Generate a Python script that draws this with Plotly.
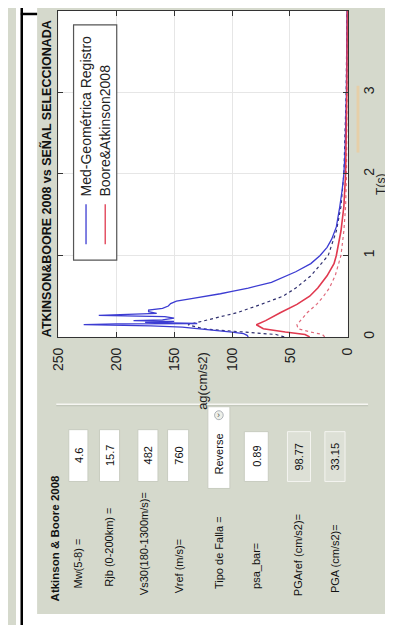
import plotly.graph_objects as go

# ---------------- data ----------------
T_rec = [0.00, 0.02, 0.04, 0.06, 0.08, 0.10, 0.12, 0.135, 0.15, 0.16, 0.165, 0.18, 0.19, 0.20,
         0.21, 0.23, 0.25, 0.265, 0.28, 0.29, 0.31, 0.33, 0.35, 0.38, 0.41, 0.44, 0.47, 0.50,
         0.53, 0.56, 0.60, 0.67, 0.74, 0.80, 0.90, 1.00, 1.10, 1.20, 1.35, 1.50, 1.60, 1.80,
         2.00, 2.25, 2.50, 3.00, 3.50, 4.00]
sa_rec = [86, 87, 90, 100, 115, 128, 143, 170, 228, 200, 130, 175, 150, 185,
          160, 150, 158, 215, 185, 165, 172, 172, 160, 155, 153, 148, 135, 122,
          110, 100, 86, 66, 54, 45, 32, 24, 18, 14, 10, 8, 7, 5,
          3.5, 2.5, 2.0, 1.3, 1.0, 0.8]

T_mod = [0.00, 0.03, 0.06, 0.10, 0.15, 0.20, 0.30, 0.40, 0.50, 0.60, 0.75, 0.90, 1.00,
         1.30, 1.60, 2.00, 3.00, 4.00]
sa_med = [33, 37, 54, 73, 79, 71, 58, 44, 33, 26, 18, 12, 10, 6, 3.5, 2.0, 0.9, 0.5]
sa_up = [55, 62, 90, 125, 138, 124, 95, 75, 56, 45, 32, 23, 17, 10, 6, 3.5, 1.5, 0.8]
sa_lo = [20, 22, 32, 43, 44, 41, 35, 27, 21, 16, 11, 8, 6, 3.5, 2.0, 1.2, 0.5, 0.3]

ag_ticks = [0, 50, 100, 150, 200, 250]
T_ticks = [0, 1, 2, 3, 4]

title_text = "ATKINSON&BOORE 2008 vs SEÑAL SELECCIONADA"
legend_names = ["Med-Geométrica Registro", "Boore&Atkinson2008"]
panel_title = "Atkinson & Boore 2008"
param_labels = ["Mw(5-8) =", "Rjb (0-200km) =", "Vs30(180-1300m/s)=", "Vref (m/s)=",
                "Tipo de Falla =", "psa_bar=", "PGAref (cm/s2)=", "PGA (cm/s2)="]
param_values = ["4.6", "15.7", "482", "760", "Reverse", "0.89", "98.77", "33.15"]

# ---------------- layout helpers ----------------
W, H = 393, 625
def px(x):
    return x / W
def py(y):
    return 1 - y / H

FONT = "Liberation Sans, Arial, sans-serif"
BG = "#d5d9cc"
BLUE = "#3c3cd2"
RED = "#e0394f"

fig = go.Figure()
fig.add_trace(go.Scatter(x=sa_up, y=T_mod, mode="lines",
                         line=dict(color="#2f2f6e", width=1.2, dash="dot"), showlegend=False))
fig.add_trace(go.Scatter(x=sa_lo, y=T_mod, mode="lines",
                         line=dict(color="#e06a7c", width=1.2, dash="dot"), showlegend=False))
fig.add_trace(go.Scatter(x=sa_rec, y=T_rec, mode="lines",
                         line=dict(color=BLUE, width=1.3), name=legend_names[0], showlegend=False))
fig.add_trace(go.Scatter(x=sa_med, y=T_mod, mode="lines",
                         line=dict(color=RED, width=1.6), name=legend_names[1], showlegend=False))

shapes = []
ann = []

# white strips + black frame
shapes.append(dict(type="rect", xref="paper", yref="paper", x0=0, x1=px(22), y0=0, y1=1,
                   fillcolor="white", line=dict(width=0), layer="below"))
shapes.append(dict(type="rect", xref="paper", yref="paper", x0=0, x1=1, y0=0, y1=py(608),
                   fillcolor="white", line=dict(width=0), layer="below"))
shapes.append(dict(type="rect", xref="paper", yref="paper", x0=px(390.5), x1=1, y0=py(608), y1=py(265),
                   fillcolor="#f4f6f2", line=dict(width=0), layer="below"))
shapes.append(dict(type="line", xref="paper", yref="paper", x0=px(6), x1=px(6), y0=0, y1=1,
                   line=dict(color="black", width=2.5)))
shapes.append(dict(type="line", xref="paper", yref="paper", x0=px(5), x1=px(22), y0=py(6), y1=py(6),
                   line=dict(color="black", width=2.5)))
shapes.append(dict(type="line", xref="paper", yref="paper", x0=px(5), x1=1, y0=py(621), y1=py(621),
                   line=dict(color="black", width=3)))
# tan strip
shapes.append(dict(type="rect", xref="paper", yref="paper", x0=px(355), x1=px(358), y0=py(145), y1=py(78),
                   fillcolor="#e6cfa8", line=dict(width=0), layer="below"))

# title
ann.append(dict(xref="paper", yref="paper", x=px(32), y=py(171), text="<b>" + title_text + "</b>",
                textangle=-90, showarrow=False, font=dict(family=FONT, size=12.5, color="#111"),
                xanchor="center", yanchor="middle"))
# axis titles
ann.append(dict(xref="paper", yref="paper", x=px(195), y=py(374), text="ag(cm/s2)",
                textangle=-90, showarrow=False, font=dict(family=FONT, size=13, color="#222"),
                xanchor="center", yanchor="middle"))
ann.append(dict(xref="paper", yref="paper", x=px(381), y=py(177), text="T(s)",
                textangle=-90, showarrow=False, font=dict(family=FONT, size=12, color="#222"),
                xanchor="center", yanchor="middle"))

# legend box
shapes.append(dict(type="rect", xref="paper", yref="paper", x0=px(60), x1=px(105), y0=py(253), y1=py(17),
                   fillcolor="white", line=dict(color="#555", width=1.2)))
leg_x = [73, 93]
leg_col = [BLUE, RED]
for i in range(2):
    shapes.append(dict(type="line", xref="paper", yref="paper", x0=px(leg_x[i]), x1=px(leg_x[i]),
                       y0=py(237), y1=py(197), line=dict(color=leg_col[i], width=1.3)))
    ann.append(dict(xref="paper", yref="paper", x=px(leg_x[i]), y=py(191), text=legend_names[i],
                    textangle=-90, showarrow=False, font=dict(family=FONT, size=14, color="#222"),
                    xanchor="center", yanchor="bottom"))

# control panel
shapes.append(dict(type="line", xref="paper", yref="paper", x0=px(42), x1=px(367), y0=py(397.5), y1=py(397.5),
                   line=dict(color="#f6f6f2", width=1.5)))
shapes.append(dict(type="line", xref="paper", yref="paper", x0=px(42), x1=px(367), y0=py(399), y1=py(399),
                   line=dict(color="#b8bcb0", width=0.8)))
ann.append(dict(xref="paper", yref="paper", x=px(41), y=py(597), text="<b>" + panel_title + "</b>",
                textangle=-90, showarrow=False, font=dict(family=FONT, size=11.5, color="#111"),
                xanchor="center", yanchor="bottom"))
row_x = [65, 97, 133, 170, 211, 250, 294, 332]
lab_bottom = [584, 583, 591, 589, 585, 585, 592, 589]
boxes = [(55, 75, 423, 475), (87, 108, 423, 475), (127, 148, 423, 475), (158, 180, 423, 475),
         (200, 223, 400, 482), (238, 263, 425, 475), (283, 307, 425, 475), (322, 343, 425, 475)]
for i in range(8):
    ann.append(dict(xref="paper", yref="paper", x=px(row_x[i]), y=py(lab_bottom[i]), text=param_labels[i],
                    textangle=-90, showarrow=False, font=dict(family=FONT, size=11, color="#111"),
                    xanchor="center", yanchor="bottom"))
    x0, x1, y0, y1 = boxes[i]
    static = i >= 6
    shapes.append(dict(type="rect", xref="paper", yref="paper", x0=px(x0), x1=px(x1), y0=py(y1), y1=py(y0),
                       fillcolor="#dde0d6" if static else "white",
                       line=dict(color="#f4f4f0" if static else "#c8ccc0", width=1)))
    cy = (y0 + y1) / 2 + (6 if i == 4 else 0)
    ann.append(dict(xref="paper", yref="paper", x=px((x0 + x1) / 2), y=py(cy), text=param_values[i],
                    textangle=-90, showarrow=False, font=dict(family=FONT, size=11, color="#111"),
                    xanchor="center", yanchor="middle"))
# popup arrow button
shapes.append(dict(type="circle", xref="paper", yref="paper", x0=px(207), x1=px(216), y0=py(413), y1=py(404),
                   fillcolor="#eef0ea", line=dict(color="#9aa0a8", width=0.8)))
ann.append(dict(xref="paper", yref="paper", x=px(211.5), y=py(408.5), text="›",
                showarrow=False, font=dict(family=FONT, size=9, color="#555"),
                xanchor="center", yanchor="middle"))

fig.update_layout(
    width=W, height=H, margin=dict(l=0, r=0, t=0, b=0),
    paper_bgcolor=BG, plot_bgcolor="white",
    shapes=shapes, annotations=ann, showlegend=False,
    xaxis=dict(domain=[px(44), px(346)], range=[250, 0], tickvals=ag_ticks, tickangle=-90,
               ticks="inside", ticklen=5, tickcolor="#333", mirror="ticks", showline=True,
               linecolor="#333", linewidth=1.2, showgrid=True, gridcolor="#e6e6e6", zeroline=False,
               tickfont=dict(family=FONT, size=14, color="#222"), ticklabelstandoff=4, fixedrange=True),
    yaxis=dict(domain=[py(330), py(3)], range=[0, 4], tickvals=T_ticks, tickangle=-90, side="right",
               ticks="inside", ticklen=5, tickcolor="#333", mirror="ticks", showline=True,
               linecolor="#333", linewidth=1.2, showgrid=True, gridcolor="#e6e6e6", zeroline=False,
               tickfont=dict(family=FONT, size=14, color="#222"), ticklabelstandoff=8, fixedrange=True),
)

fig.write_html("out.html", config={"displayModeBar": False})
